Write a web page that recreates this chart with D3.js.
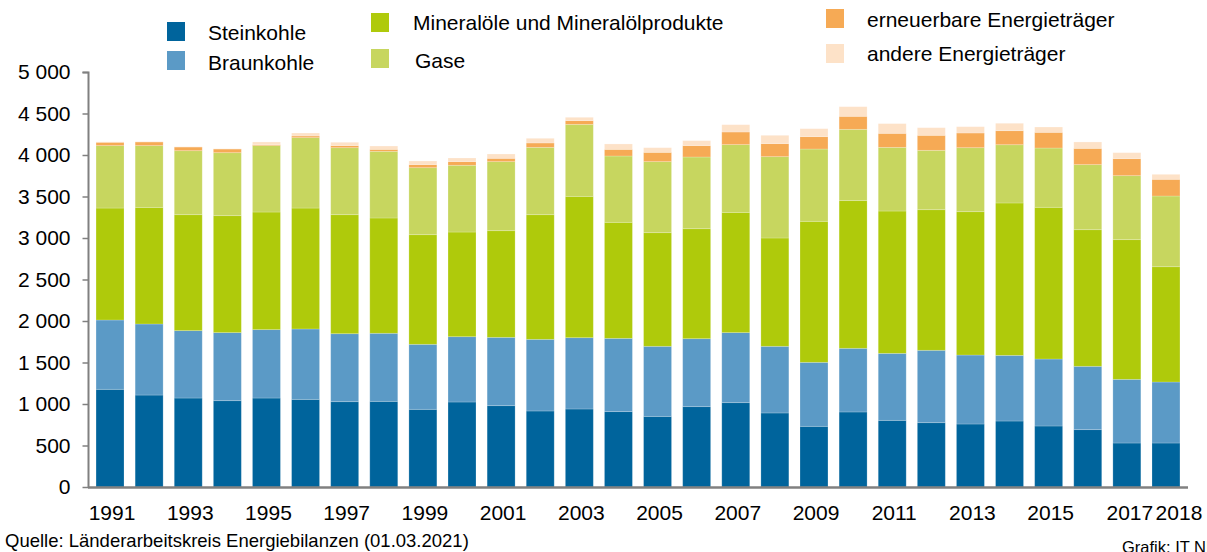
<!DOCTYPE html>
<html>
<head>
<meta charset="utf-8">
<script src="https://cdn.jsdelivr.net/npm/d3@7"></script>
<style>
  body { margin: 0; background: #fff; }
  svg { font-family: "Liberation Sans", Arial, sans-serif; }
</style>
</head>
<body>
<svg width="1207" height="552"></svg>
<script>
const svg = d3.select('svg');

// data (PJ)
const years = d3.range(1991, 2019);
const steinkohle = [1177,1108,1072,1040,1072,1056,1028,1032,936,1024,980,916,940,908,851,968,1016,892,731,904,803,775,759,795,735,691,530,530];
const braunkohle = [835,856,812,820,824,848,819,820,783,787,823,863,859,883,844,819,844,803,771,767,807,872,831,791,807,763,767,735];
const mineraloel = [1349,1405,1397,1409,1417,1457,1434,1389,1321,1261,1285,1502,1703,1398,1369,1325,1449,1305,1699,1779,1715,1694,1727,1836,1828,1646,1683,1389];
const gase = [752,744,771,759,800,848,807,803,807,804,832,811,867,799,856,864,816,980,871,859,767,715,771,702,714,784,771,852];
const erneuerbar = [40,44,44,44,12,20,25,24,37,44,40,53,45,80,112,137,152,157,149,157,169,181,177,169,189,196,205,201];
const andere = [5,3,3,3,32,36,40,40,44,44,52,56,40,65,56,60,88,100,96,116,117,92,76,89,64,77,72,60];
const yTicks = [0,500,1000,1500,2000,2500,3000,3500,4000,4500,5000];
const xLabels = [1991,1993,1995,1997,1999,2001,2003,2005,2007,2009,2011,2013,2015,2017,2018];

const series = [
  {key: 'Steinkohle', values: steinkohle, color: '#00649c'},
  {key: 'Braunkohle', values: braunkohle, color: '#5b9ac6'},
  {key: 'Mineralöle und Mineralölprodukte', values: mineraloel, color: '#afca0b'},
  {key: 'Gase', values: gase, color: '#c7d65f'},
  {key: 'erneuerbare Energieträger', values: erneuerbar, color: '#f6aa55'},
  {key: 'andere Energieträger', values: andere, color: '#fde2c8'}
];

const rows = years.map((y, i) => {
  const r = {year: y};
  series.forEach(s => r[s.key] = s.values[i]);
  return r;
});
const stacked = d3.stack().keys(series.map(s => s.key))(rows);

const x = d3.scaleBand().domain(years).range([89, 1187]).paddingInner(0.285).paddingOuter(0.18);
const y = d3.scaleLinear().domain([0, 5000]).range([487, 72]);

const fmt = v => d3.format(',')(v).replace(',', ' ');

// bars
svg.append('g').selectAll('g').data(stacked).enter().append('g')
  .attr('fill', (d, i) => series[i].color)
  .selectAll('rect').data(d => d).enter().append('rect')
  .attr('x', d => x(d.data.year))
  .attr('width', x.bandwidth())
  .attr('y', d => y(d[1]))
  .attr('height', d => y(d[0]) - y(d[1]))
  .attr('stroke', '#fff').attr('stroke-opacity', 0.25).attr('stroke-width', 0.8);

// y axis
const yAxis = svg.append('g').attr('transform', 'translate(88.5,0)')
  .call(d3.axisLeft(y).tickValues(yTicks).tickSize(6).tickFormat(fmt));
yAxis.select('.domain').attr('stroke', '#808080').attr('stroke-width', 2).attr('d', 'M-6,72.5H0V487');
yAxis.selectAll('.tick line').attr('stroke', '#808080').attr('stroke-width', 1.5);
yAxis.selectAll('.tick text').attr('x', -18).attr('font-size', 21).attr('fill', '#000')
  .attr('font-family', '"Liberation Sans", Arial, sans-serif');

// x axis line
svg.append('line').attr('x1', 88).attr('x2', 1188).attr('y1', 487.5).attr('y2', 487.5)
  .attr('stroke', '#808080').attr('stroke-width', 2.5);

svg.append('g').selectAll('text').data(xLabels).enter().append('text')
  .attr('x', d => x(d) + x.bandwidth() / 2 + (d === 2018 ? 13 : d === 2017 ? 3 : 2))
  .attr('y', 520)
  .attr('text-anchor', 'middle')
  .attr('font-size', 21)
  .text(d => d);

// legend
const legendPos = [
  {sx: 167, sy: 22, tx: 208, ty: 40},
  {sx: 167, sy: 51, tx: 208, ty: 70},
  {sx: 371, sy: 13, tx: 413, ty: 30},
  {sx: 371, sy: 49, tx: 415, ty: 68},
  {sx: 826, sy: 9, tx: 867, ty: 27},
  {sx: 826, sy: 44, tx: 867, ty: 61}
];
const legend = svg.append('g').selectAll('g').data(series).enter().append('g');
legend.append('rect')
  .attr('x', (d, i) => legendPos[i].sx).attr('y', (d, i) => legendPos[i].sy)
  .attr('width', 18).attr('height', 19)
  .attr('fill', d => d.color);
legend.append('text')
  .attr('x', (d, i) => legendPos[i].tx).attr('y', (d, i) => legendPos[i].ty)
  .attr('font-size', 21)
  .text(d => d.key);

// footer
svg.append('text').attr('x', 5).attr('y', 547).attr('font-size', 18.5)
  .text('Quelle: Länderarbeitskreis Energiebilanzen (01.03.2021)');
svg.append('text').attr('x', 1122).attr('y', 553).attr('font-size', 16.5)
  .text('Grafik: IT NRW');
</script>
</body>
</html>
